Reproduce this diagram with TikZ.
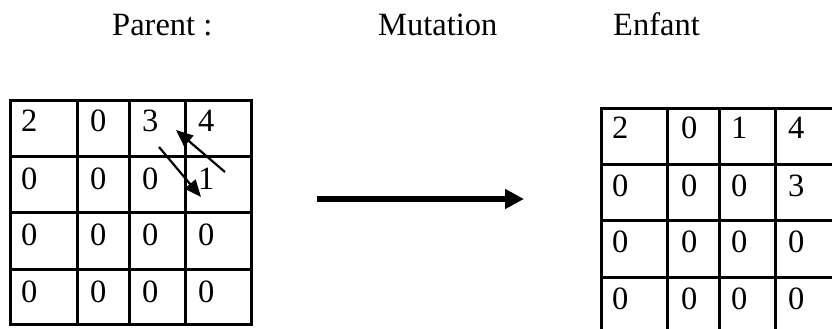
\documentclass[tikz,border=0pt]{standalone}
\usepackage{fontspec}
\setmainfont{Liberation Serif}
\usetikzlibrary{arrows.meta}
\begin{document}
\begin{tikzpicture}[x=1pt,y=-1pt,
  gridline/.style={line width=3pt,line cap=rect},
  celltext/.style={anchor=base west,inner sep=0pt,font=\fontsize{32.5}{38}\selectfont},
  titletext/.style={anchor=base west,inner sep=0pt,font=\fontsize{32.5}{38}\selectfont},
  swaparrow/.style={line width=2.2pt,-{Triangle[length=17pt,width=14pt]}},
  bigarrow/.style={line width=6.5pt,-{Triangle[length=19pt,width=19pt]}}]
\useasboundingbox (0,0) rectangle (832,329);
\clip (0,0) rectangle (832,329);
% titles
\node[titletext] (tparent) at (112,36) {Parent :};
\node[titletext] (tmut) at (378,36) {Mutation};
\node[titletext] (tenf) at (613,36) {Enfant};
% left grid
\foreach \x in {10,77,129,185,251} \draw[gridline] (\x,100) -- (\x,324);
\foreach \y in {100,156,212,269,324} \draw[gridline] (10,\y) -- (251,\y);
\node[celltext] (p11) at (21,131) {2};
\node[celltext] (p12) at (90,131) {0};
\node[celltext] (p13) at (142,131) {3};
\node[celltext] (p14) at (198,131) {4};
\node[celltext] (p21) at (21,189) {0};
\node[celltext] (p22) at (90,189) {0};
\node[celltext] (p23) at (142,189) {0};
\node[celltext] (p24) at (198,189) {1};
\node[celltext] (p31) at (21,245) {0};
\node[celltext] (p32) at (90,245) {0};
\node[celltext] (p33) at (142,245) {0};
\node[celltext] (p34) at (198,245) {0};
\node[celltext] (p41) at (21,302) {0};
\node[celltext] (p42) at (90,302) {0};
\node[celltext] (p43) at (142,302) {0};
\node[celltext] (p44) at (198,302) {0};
% swap arrows
\coordinate (a1s) at (225,172);
\coordinate (a1e) at (176,130);
\coordinate (a2s) at (159,147);
\coordinate (a2e) at (201,197);
\draw[swaparrow] (a1s) -- (a1e);
\draw[swaparrow] (a2s) -- (a2e);
% big arrow
\coordinate (ms) at (317,199);
\coordinate (me) at (524,199);
\draw[bigarrow] (ms) -- (me);
% right grid
\foreach \x in {601,667,719,775} \draw[gridline] (\x,108) -- (\x,345);
\foreach \y in {108,164,220,277} \draw[gridline] (601,\y) -- (845,\y);
\node[celltext] (c11) at (612,138) {2};
\node[celltext] (c12) at (681,138) {0};
\node[celltext] (c13) at (731,138) {1};
\node[celltext] (c14) at (788,138) {4};
\node[celltext] (c21) at (612,196) {0};
\node[celltext] (c22) at (681,196) {0};
\node[celltext] (c23) at (731,196) {0};
\node[celltext] (c24) at (788,196) {3};
\node[celltext] (c31) at (612,252) {0};
\node[celltext] (c32) at (681,252) {0};
\node[celltext] (c33) at (731,252) {0};
\node[celltext] (c34) at (788,252) {0};
\node[celltext] (c41) at (612,309) {0};
\node[celltext] (c42) at (681,309) {0};
\node[celltext] (c43) at (731,309) {0};
\node[celltext] (c44) at (788,309) {0};
\end{tikzpicture}
\end{document}
